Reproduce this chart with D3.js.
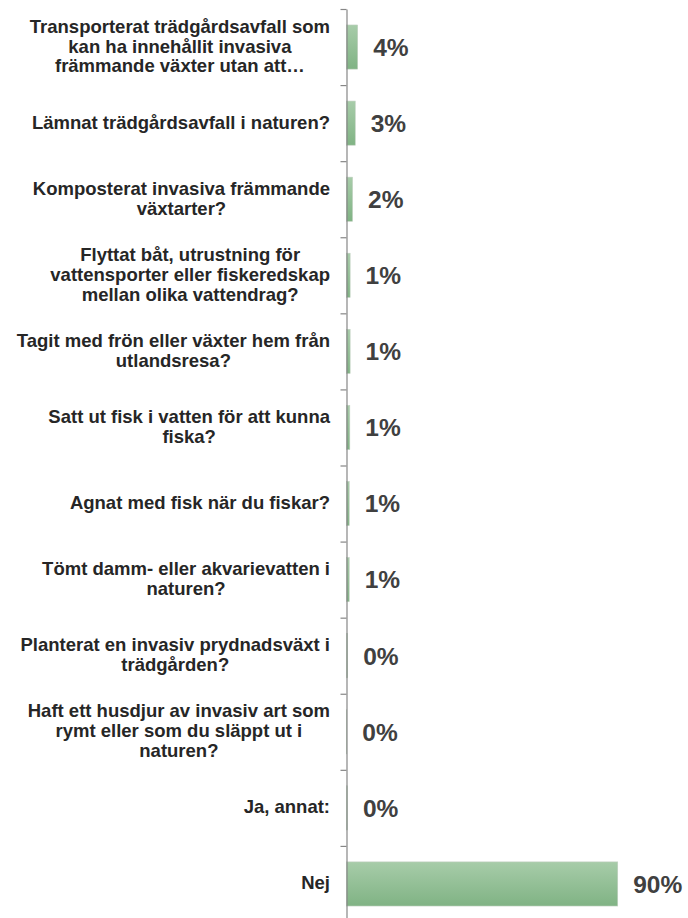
<!DOCTYPE html>
<html>
<head>
<meta charset="utf-8">
<script src="https://cdn.jsdelivr.net/npm/d3@7"></script>
<style>
  html, body { margin: 0; padding: 0; background: #ffffff; }
  svg { display: block; }
</style>
</head>
<body>
<div id="chart"></div>
<script>
// ---- data ----
const categories = [
  "Transporterat trädgårdsavfall som\nkan ha innehållit invasiva\nfrämmande växter utan att…",
  "Lämnat trädgårdsavfall i naturen?",
  "Komposterat invasiva främmande\nväxtarter?",
  "Flyttat båt, utrustning för\nvattensporter eller fiskeredskap\nmellan olika vattendrag?",
  "Tagit med frön eller växter hem från\nutlandsresa?",
  "Satt ut fisk i vatten för att kunna\nfiska?",
  "Agnat med fisk när du fiskar?",
  "Tömt damm- eller akvarievatten i\nnaturen?",
  "Planterat en invasiv prydnadsväxt i\nträdgården?",
  "Haft ett husdjur av invasiv art som\nrymt eller som du släppt ut i\nnaturen?",
  "Ja, annat:",
  "Nej"
];
const values = [3.7, 2.9, 2.0, 1.2, 1.2, 1.1, 0.9, 0.9, 0.4, 0.1, 0.3, 89.9];

// ---- layout ----
const W = 688, H = 918;
const axisX = 346.5;
const yTop = 9, yBottom = 922;
const labelRight = 330;
const labelFont = 18.5, lineH = 19.8;

const svg = d3.select("#chart").append("svg")
  .attr("width", W).attr("height", H);

const defs = svg.append("defs");
const grad = defs.append("linearGradient")
  .attr("id", "barGrad").attr("x1", 0).attr("y1", 0).attr("x2", 0).attr("y2", 1);
grad.append("stop").attr("offset", "0%").attr("stop-color", "#a7cca9");
grad.append("stop").attr("offset", "100%").attr("stop-color", "#80b384");

const x = d3.scaleLinear().domain([0, 100]).range([axisX, axisX + 301.7]);
const y = d3.scaleBand().domain(d3.range(categories.length))
  .range([yTop, yBottom]).paddingInner(0.42).paddingOuter(0.21);
const yLin = d3.scaleLinear().domain([0, categories.length]).range([yTop, yBottom]);

// bars
svg.append("g").selectAll("rect")
  .data(values)
  .join("rect")
  .attr("x", x(0))
  .attr("y", (d, i) => y(i))
  .attr("width", d => Math.max(0, x(d) - x(0)))
  .attr("height", y.bandwidth())
  .attr("fill", "url(#barGrad)")
  .attr("stroke", "#bfcfbf")
  .attr("stroke-width", 0.6);

// axis with ticks at category boundaries
const axis = d3.axisLeft(yLin)
  .tickValues(d3.range(categories.length + 1))
  .tickFormat("")
  .tickSize(6)
  .tickSizeOuter(0);
const gAxis = svg.append("g").attr("transform", `translate(${axisX},0)`).call(axis);
gAxis.select(".domain").attr("stroke", "#868686").attr("stroke-width", 1.2);
gAxis.selectAll(".tick line").attr("stroke", "#868686").attr("stroke-width", 1.2);

// value labels
svg.append("g").selectAll("text")
  .data(values)
  .join("text")
  .attr("x", d => x(d) + 15.5)
  .attr("y", (d, i) => y(i) + y.bandwidth() / 2)
  .attr("dy", "0.36em")
  .attr("font-family", "'Liberation Sans', Arial, sans-serif")
  .attr("font-weight", "bold")
  .attr("font-size", 24.5)
  .attr("fill", "#404040")
  .text(d => Math.round(d) + "%");

// category labels (centered lines, block right-aligned)
const gLab = svg.append("g")
  .attr("font-family", "'Liberation Sans', Arial, sans-serif")
  .attr("font-weight", "bold")
  .attr("font-size", labelFont)
  .attr("fill", "#262626");

categories.forEach((c, i) => {
  const lines = c.split("\n");
  const cy = y(i) + y.bandwidth() / 2 - 1;
  const t = gLab.append("text").attr("text-anchor", "middle");
  const spans = lines.map((ln, k) => t.append("tspan")
    .attr("y", cy + (k - (lines.length - 1) / 2) * lineH)
    .attr("dy", "0.35em")
    .text(ln));
  const maxW = d3.max(spans, s => s.node().getComputedTextLength());
  const cx = labelRight - maxW / 2;
  spans.forEach(s => s.attr("x", cx));
});
</script>
</body>
</html>
